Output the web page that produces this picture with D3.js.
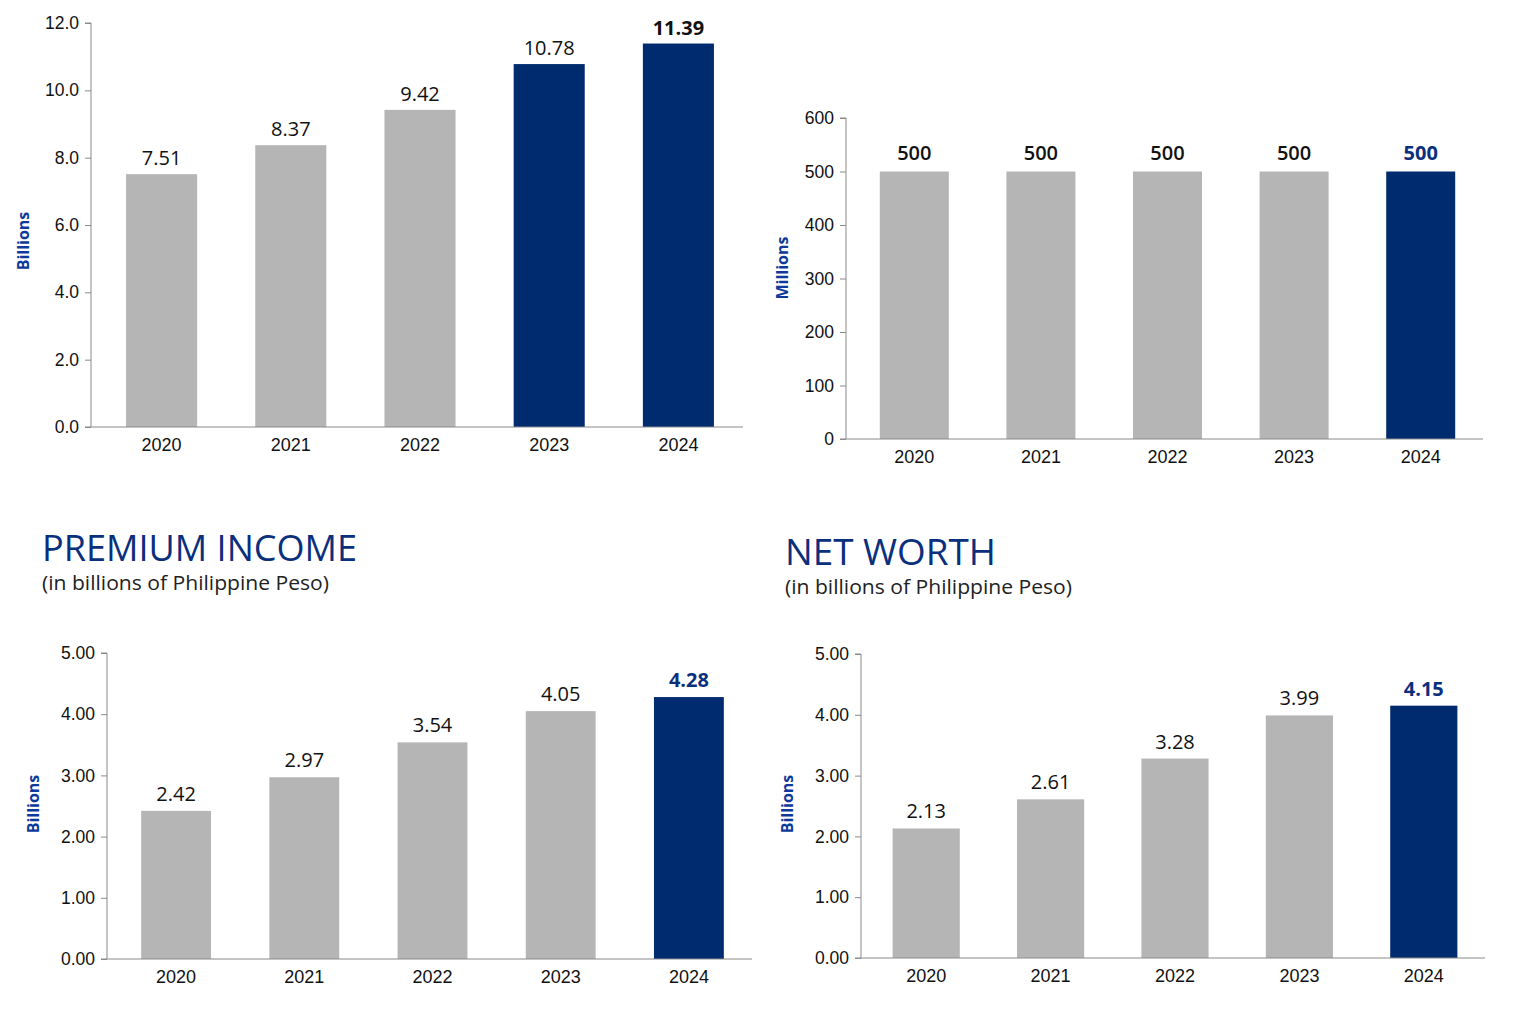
<!DOCTYPE html>
<html>
<head>
<meta charset="utf-8">
<script src="https://cdn.jsdelivr.net/npm/d3@7"></script>
<style>
  html, body { margin: 0; padding: 0; background: #ffffff; }
  svg { display: block; font-family: "Open Sans", "Noto Sans", sans-serif; }
</style>
</head>
<body>
<svg id="chart" width="1518" height="1036"></svg>
<script>
// ---- data ----
const years = ["2020", "2021", "2022", "2023", "2024"];

const assetsValues = [7.51, 8.37, 9.42, 10.78, 11.39];
const assetsTicks = [0, 2, 4, 6, 8, 10, 12];
const assetsHighlight = [false, false, false, true, true];

const capitalValues = [500, 500, 500, 500, 500];
const capitalTicks = [0, 100, 200, 300, 400, 500, 600];
const capitalHighlight = [false, false, false, false, true];

const premiumValues = [2.42, 2.97, 3.54, 4.05, 4.28];
const premiumTicks = [0, 1, 2, 3, 4, 5];
const premiumHighlight = [false, false, false, false, true];

const netWorthValues = [2.13, 2.61, 3.28, 3.99, 4.15];
const netWorthTicks = [0, 1, 2, 3, 4, 5];
const netWorthHighlight = [false, false, false, false, true];

const titles = ["PREMIUM INCOME", "NET WORTH"];
const subtitle = "(in billions of Philippine Peso)";

// ---- style ----
const GRAY = "#b5b5b5";
const NAVY = "#002b6e";
const BLUE_TEXT = "#0a2f7d";
const AXIS = "#8a8a8a";

const svg = d3.select("#chart");

function drawPanel(cfg) {
  const g = svg.append("g");
  const x = d3.scaleBand().domain(years).range(cfg.xRange).paddingInner(cfg.pad).paddingOuter(cfg.pad / 2);
  const y = d3.scaleLinear().domain([0, cfg.ticks[cfg.ticks.length - 1]]).range(cfg.yRange);

  // bars
  g.selectAll("rect.bar").data(cfg.values).join("rect")
    .attr("class", "bar")
    .attr("x", (d, i) => x(years[i]))
    .attr("width", x.bandwidth())
    .attr("y", d => y(d))
    .attr("height", d => y(0) - y(d))
    .attr("fill", (d, i) => cfg.highlight[i] ? NAVY : GRAY);

  // y axis
  const yAxis = d3.axisLeft(y).tickValues(cfg.ticks).tickFormat(cfg.fmt).tickSize(6).tickPadding(6);
  const ya = g.append("g").attr("transform", `translate(${cfg.axisX},0)`).call(yAxis);
  ya.select(".domain").attr("stroke", AXIS).attr("d", `M-6,${cfg.yRange[1]}H0V${cfg.yRange[0]}`);
  ya.selectAll(".tick line").attr("stroke", AXIS);
  ya.selectAll(".tick text").attr("fill", "#111").style("font-size", "17.5px");

  // x axis
  const xAxis = d3.axisBottom(x).tickSize(0).tickPadding(11);
  const xa = g.append("g").attr("transform", `translate(0,${cfg.yRange[0]})`).call(xAxis);
  xa.select(".domain").attr("stroke", AXIS).attr("d", `M${cfg.axisX - 6},0H${cfg.xEnd}`);
  xa.selectAll(".tick text").attr("fill", "#111").style("font-size", "18px");

  // value labels
  g.selectAll("text.val").data(cfg.values).join("text")
    .attr("class", "val")
    .attr("x", (d, i) => x(years[i]) + x.bandwidth() / 2)
    .attr("y", d => y(d) - cfg.labelGap)
    .attr("text-anchor", "middle")
    .style("font-size", "20px")
    .style("font-weight", (d, i) => cfg.labelWeight(i))
    .attr("fill", (d, i) => cfg.labelColor(i))
    .text(d => cfg.valFmt(d));

  // axis title
  g.append("text")
    .attr("transform", `translate(${cfg.titleX},${cfg.titleY}) rotate(-90)`)
    .attr("text-anchor", "middle")
    .style("font-size", "16px")
    .style("font-weight", "700")
    .attr("fill", "#0d3a9a")
    .text(cfg.unit);
}

drawPanel({
  values: assetsValues, ticks: assetsTicks, highlight: assetsHighlight,
  xRange: [97, 743], xEnd: 743, pad: 0.45, yRange: [427, 23], axisX: 91,
  fmt: d3.format(".1f"), valFmt: d3.format(".2f"), labelGap: 9,
  labelWeight: i => i === 4 ? 700 : 400,
  labelColor: i => "#111",
  unit: "Billions", titleX: 29, titleY: 241
});

drawPanel({
  values: capitalValues, ticks: capitalTicks, highlight: capitalHighlight,
  xRange: [851, 1484], xEnd: 1483, pad: 0.455, yRange: [439, 118], axisX: 846,
  fmt: d3.format("d"), valFmt: d3.format("d"), labelGap: 12,
  labelWeight: i => i === 4 ? 700 : 600,
  labelColor: i => i === 4 ? BLUE_TEXT : "#111",
  unit: "Millions", titleX: 788, titleY: 268
});

drawPanel({
  values: premiumValues, ticks: premiumTicks, highlight: premiumHighlight,
  xRange: [112, 753], xEnd: 752, pad: 0.455, yRange: [959, 653], axisX: 107,
  fmt: d3.format(".2f"), valFmt: d3.format(".2f"), labelGap: 10,
  labelWeight: i => i === 4 ? 700 : 400,
  labelColor: i => i === 4 ? BLUE_TEXT : "#111",
  unit: "Billions", titleX: 39, titleY: 804
});

drawPanel({
  values: netWorthValues, ticks: netWorthTicks, highlight: netWorthHighlight,
  xRange: [864, 1486], xEnd: 1485, pad: 0.46, yRange: [958, 654], axisX: 861,
  fmt: d3.format(".2f"), valFmt: d3.format(".2f"), labelGap: 10,
  labelWeight: i => i === 4 ? 700 : 400,
  labelColor: i => i === 4 ? BLUE_TEXT : "#111",
  unit: "Billions", titleX: 793, titleY: 804
});

// section titles
const titlePos = [[42, 561, 590], [785, 565, 594]];
titles.forEach((t, i) => {
  svg.append("text").attr("x", titlePos[i][0]).attr("y", titlePos[i][1])
    .style("font-size", "36px").attr("fill", BLUE_TEXT).attr("textLength", i === 0 ? 315 : 211)
    .attr("lengthAdjust", "spacingAndGlyphs")
    .text(t);
  svg.append("text").attr("x", titlePos[i][0]).attr("y", titlePos[i][2])
    .style("font-size", "20px").attr("fill", "#222").attr("textLength", 287)
    .attr("lengthAdjust", "spacingAndGlyphs")
    .text(subtitle);
});
</script>
</body>
</html>
